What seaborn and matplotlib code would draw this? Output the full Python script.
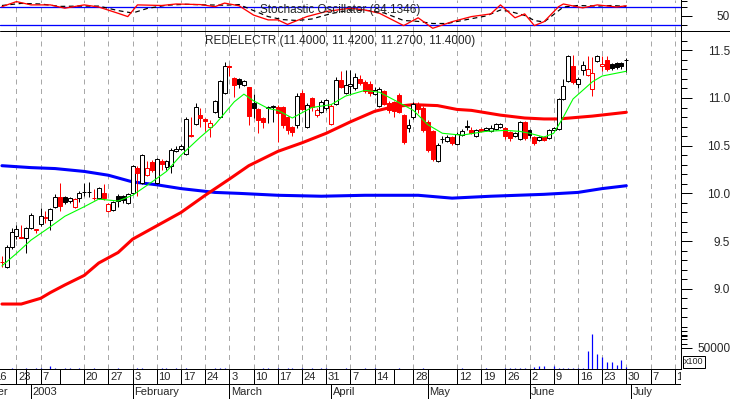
import numpy as np
import matplotlib
matplotlib.use("Agg")
import matplotlib.pyplot as plt
import seaborn as sns
from matplotlib.lines import Line2D
from matplotlib.ticker import FixedLocator

sns.set_style("white")
plt.rcParams['font.family'] = ['Liberation Sans', 'DejaVu Sans']

# trading-day index, 0 = first session of January 2003
day = np.arange(-6, 124)
first_prev_close = 9.31

opens = [9.28, 9.23, 9.44, 9.55, 9.54, 9.53, 9.64, 9.62, 9.68, 9.74,
         9.72, 9.86, 9.96, 9.96, 9.92, 9.86, 9.95, 10.01, 10.01, 9.95,
         9.95, 10.00, 9.81, 9.83, 9.97, 9.97, 9.90, 10.00, 10.27, 10.11,
         10.19, 10.33, 10.11, 10.34, 10.28, 10.29, 10.44, 10.46, 10.41, 10.61,
         10.73, 10.82, 10.78, 10.70, 10.85, 10.80, 11.05, 11.33, 11.21, 11.20,
         11.14, 11.11, 10.95, 10.88, 10.79, 10.90, 10.91, 10.91, 10.91, 10.80,
         10.70, 10.72, 11.05, 10.70, 11.00, 10.82, 10.85, 10.89, 10.73, 10.94,
         11.19, 11.05, 11.13, 11.10, 11.20, 11.17, 11.15, 11.04, 10.92, 11.07,
         10.95, 10.96, 11.03, 10.82, 10.68, 10.80, 10.93, 10.90, 10.75, 10.65,
         10.34, 10.57, 10.55, 10.59, 10.52, 10.61, 10.70, 10.66, 10.60, 10.67,
         10.66, 10.65, 10.67, 10.70, 10.69, 10.64, 10.60, 10.57, 10.75, 10.66,
         10.59, 10.56, 10.59, 10.58, 10.66, 10.67, 10.99, 11.18, 11.34, 11.15,
         11.29, 11.24, 11.09, 11.39, 11.34, 11.40, 11.36, 11.37, 11.37, 11.40]
highs = [9.34, 9.46, 9.64, 9.67, 9.67, 9.65, 9.79, 9.63, 9.85, 9.82,
         9.85, 9.99, 10.11, 9.97, 9.96, 9.95, 10.03, 10.11, 10.12, 10.05,
         10.07, 10.10, 9.90, 9.92, 9.99, 9.98, 10.00, 10.30, 10.29, 10.41,
         10.34, 10.35, 10.37, 10.36, 10.35, 10.48, 10.50, 10.52, 10.80, 10.80,
         10.95, 10.90, 10.79, 10.77, 10.98, 11.19, 11.38, 11.35, 11.22, 11.21,
         11.19, 11.12, 11.04, 10.90, 10.80, 10.92, 10.93, 10.93, 10.92, 10.81,
         10.71, 11.05, 11.08, 10.95, 11.01, 10.89, 10.98, 10.99, 10.94, 11.22,
         11.28, 11.29, 11.29, 11.26, 11.24, 11.19, 11.18, 11.12, 11.12, 11.08,
         10.97, 10.97, 11.05, 10.83, 10.78, 10.96, 10.96, 10.92, 10.77, 10.66,
         10.53, 10.60, 10.61, 10.60, 10.64, 10.67, 10.77, 10.70, 10.67, 10.68,
         10.70, 10.72, 10.74, 10.74, 10.70, 10.65, 10.64, 10.76, 10.76, 10.67,
         10.60, 10.60, 10.60, 10.67, 10.70, 11.00, 11.20, 11.45, 11.45, 11.22,
         11.39, 11.44, 11.43, 11.45, 11.44, 11.44, 11.37, 11.38, 11.38, 11.42]
lows = [9.23, 9.22, 9.42, 9.52, 9.53, 9.37, 9.63, 9.58, 9.66, 9.69,
        9.62, 9.85, 9.81, 9.89, 9.90, 9.85, 9.91, 9.97, 9.96, 9.93,
        9.94, 9.93, 9.80, 9.82, 9.86, 9.90, 9.89, 9.99, 9.97, 10.10,
        10.18, 10.22, 10.10, 10.25, 10.24, 10.21, 10.43, 10.45, 10.40, 10.59,
        10.72, 10.70, 10.65, 10.59, 10.84, 10.79, 11.04, 11.23, 11.01, 11.10,
        11.13, 10.72, 10.79, 10.63, 10.68, 10.74, 10.75, 10.54, 10.69, 10.62,
        10.60, 10.68, 10.87, 10.68, 10.86, 10.80, 10.84, 10.87, 10.72, 10.93,
        11.10, 11.04, 11.03, 11.08, 11.14, 11.05, 11.02, 11.03, 10.91, 10.93,
        10.84, 10.80, 10.84, 10.52, 10.64, 10.78, 10.84, 10.64, 10.43, 10.34,
        10.33, 10.53, 10.54, 10.51, 10.51, 10.60, 10.66, 10.62, 10.59, 10.64,
        10.65, 10.64, 10.66, 10.69, 10.57, 10.55, 10.59, 10.56, 10.56, 10.58,
        10.51, 10.55, 10.55, 10.57, 10.65, 10.66, 10.98, 11.17, 11.15, 11.10,
        11.24, 11.23, 11.02, 11.38, 11.28, 11.28, 11.29, 11.30, 11.30, 11.27]
closes = [9.28, 9.44, 9.60, 9.63, 9.53, 9.64, 9.77, 9.62, 9.76, 9.75,
          9.84, 9.96, 9.87, 9.91, 9.95, 9.94, 10.00, 10.01, 10.01, 9.95,
          10.06, 9.95, 9.89, 9.91, 9.92, 9.93, 9.99, 10.29, 10.21, 10.40,
          10.27, 10.24, 10.36, 10.31, 10.34, 10.45, 10.47, 10.50, 10.78, 10.60,
          10.91, 10.79, 10.76, 10.74, 10.97, 11.18, 11.33, 11.32, 11.14, 11.15,
          11.18, 10.81, 10.89, 10.77, 10.75, 10.90, 10.91, 10.84, 10.72, 10.66,
          10.64, 11.02, 10.88, 10.93, 10.91, 10.87, 10.96, 10.98, 10.92, 11.19,
          11.12, 11.14, 11.15, 11.22, 11.16, 11.07, 11.05, 11.08, 11.09, 10.94,
          10.87, 10.86, 10.85, 10.54, 10.72, 10.94, 10.88, 10.66, 10.45, 10.36,
          10.51, 10.57, 10.59, 10.53, 10.62, 10.65, 10.70, 10.63, 10.66, 10.65,
          10.68, 10.69, 10.73, 10.73, 10.60, 10.58, 10.63, 10.75, 10.58, 10.61,
          10.53, 10.59, 10.56, 10.66, 10.69, 10.99, 11.13, 11.44, 11.17, 11.20,
          11.35, 11.30, 11.26, 11.44, 11.36, 11.30, 11.31, 11.32, 11.33, 11.40]
volume = [0, 0, 3000, 0, 0, 3000, 0, 2500, 3000, 0,
          8000, 3000, 0, 2500, 2500, 0, 2500, 0, 0, 2500,
          0, 0, 0, 0, 2500, 0, 0, 0, 3000, 2500,
          0, 0, 0, 3000, 2500, 0, 2500, 0, 2500, 0,
          0, 0, 0, 0, 3000, 3000, 2500, 0, 0, 0,
          0, 0, 0, 0, 2500, 2500, 0, 2500, 0, 2500,
          2500, 0, 2500, 0, 2500, 0, 2500, 2500, 0, 0,
          0, 2500, 0, 0, 0, 2500, 0, 2500, 0, 0,
          0, 0, 2500, 0, 0, 0, 0, 2500, 0, 0,
          0, 0, 0, 0, 0, 3000, 0, 0, 0, 0,
          2500, 0, 0, 0, 2500, 2500, 2500, 2500, 2500, 0,
          5000, 7000, 7000, 0, 7000, 3000, 3000, 3000, 3000, 3000,
          3000, 43000, 83000, 34500, 28000, 16000, 16000, 8700, 21700, 5600]

# moving averages
green_day = [-6, -3, 0, 4, 7, 11, 14, 18, 21, 25, 28, 31, 35, 38, 42, 44, 46, 49, 51, 54,
             58, 62, 65, 69, 72, 75, 79, 82, 85, 89, 94, 98, 101, 103, 106, 108, 110, 112,
             114, 116, 118, 120, 123]
green_ma = [9.24, 9.37, 9.51, 9.65, 9.76, 9.86, 9.94, 9.92, 9.98, 10.12, 10.23, 10.40, 10.59,
            10.72, 10.96, 11.04, 10.97, 10.89, 10.87, 10.79, 10.90, 10.93, 11.02, 11.08, 11.06,
            10.98, 10.87, 10.72, 10.63, 10.61, 10.65, 10.66, 10.65, 10.63, 10.59, 10.63, 10.80,
            10.99, 11.08, 11.17, 11.23, 11.25, 11.28]
red_day = [-6, -2, 0, 2, 4, 7, 11, 14, 18, 21, 26, 31, 36, 41, 45, 51, 56, 61, 66, 71,
           75, 79, 84, 88, 91, 97, 102, 106, 109, 116, 123]
red_ma = [8.84, 8.84, 8.87, 8.90, 8.96, 9.04, 9.14, 9.27, 9.38, 9.52, 9.66, 9.80, 9.98,
          10.15, 10.29, 10.44, 10.53, 10.63, 10.75, 10.86, 10.91, 10.93, 10.92, 10.88, 10.87,
          10.82, 10.79, 10.78, 10.78, 10.81, 10.85]
blue_day = [-6, 0, 5, 11, 16, 21, 26, 31, 38, 43, 51, 60, 69, 80, 87, 95, 106, 113, 118, 123]
blue_ma = [10.29, 10.27, 10.26, 10.23, 10.19, 10.12, 10.09, 10.05, 10.01, 10.00, 9.98, 9.97,
           9.98, 9.98, 9.95, 9.97, 9.99, 10.01, 10.05, 10.08]

# stochastic oscillator
stk_day = [-6, -3, 0, 4, 7, 11, 14, 18, 20, 22, 27, 30, 35, 38, 40, 43, 46, 49, 51, 53,
           57, 61, 66, 69, 72, 77, 80, 83, 87, 91, 95, 97, 100, 102, 104, 106, 109, 110,
           114, 117, 121, 123]
stk_k = [81, 98, 87, 87, 76, 87, 80, 59, 48, 87, 85, 90, 88, 81, 93, 84, 53, 37, 37, 22,
         48, 65, 76, 70, 59, 18, 44, 9, 31, 48, 57, 87, 44, 57, 18, 31, 81, 90,
         77, 87, 80, 84]
std_day = [-6, -2, 2, 6, 10, 14, 18, 21, 24, 28, 32, 36, 40, 43, 46, 49, 52, 55, 58, 62,
           66, 70, 73, 77, 80, 83, 86, 90, 94, 97, 99, 102, 104, 106, 108, 110, 113, 117,
           120, 123]
std_d = [85, 92, 90, 82, 83, 83, 68, 60, 75, 86, 89, 87, 86, 88, 68, 48, 38, 35, 40, 58,
         70, 68, 60, 35, 32, 25, 25, 38, 50, 70, 65, 52, 35, 30, 55, 80, 85, 83, 85, 82]

# date axis
week_pos = [-8, -3, -1, 2, 6, 11, 16, 21, 26, 31, 36, 41, 46, 51, 56, 61, 66, 71, 75, 79,
            82, 88, 93, 98, 103, 108, 113, 118, 123, 128, 133]
week_lab = ['16', '23', '', '7', '', '20', '27', '3', '10', '17', '24', '3', '10', '17', '24',
            '31', '7', '14', '', '28', '', '12', '19', '26', '2', '9', '16', '23', '30', '7', '14']
month_pos = [0, 21, 41, 62, 82, 103, 124]
month_lab = ['2003', 'February', 'March', 'April', 'May', 'June', 'July']

RED, BLUE, GREEN = '#ff0000', '#0000ff', '#00ff00'
PX = 0.72
xmin, xmax = -6.4, 134.3

fig = plt.figure(figsize=(7.30, 3.99), dpi=100)
W, H = 730.0, 399.0


def px_box(x0, y0, x1, y1):
    return [x0 / W, 1 - y1 / H, (x1 - x0) / W, (y1 - y0) / H]


ax_st = fig.add_axes(px_box(0, 0, 681, 31))
ax = fig.add_axes(px_box(0, 31, 681, 369))
ax_dt = fig.add_axes(px_box(0, 369, 681, 399))
ax_vol = ax.twinx()

grid_pos = [p for p, l in zip(week_pos, week_lab) if l]
for a in (ax_st, ax):
    for g in grid_pos:
        a.axvline(g, color='#a8a8a8', lw=PX, ls=(0, (5, 4.5)), zorder=0)

# ---- stochastic panel
ax_st.axhline(80, color=BLUE, lw=PX * 1.3, zorder=1)
ax_st.axhline(20, color=BLUE, lw=PX * 1.3, zorder=1)
sns.lineplot(x=std_day, y=std_d, ax=ax_st, color='black', lw=PX * 1.2,
             linestyle=(0, (4, 3)), estimator=None, sort=False, legend=False, zorder=2)
sns.lineplot(x=stk_day, y=stk_k, ax=ax_st, color=RED, lw=PX * 1.3,
             estimator=None, sort=False, legend=False, zorder=3)
ax_st.set_ylim(0, 103.3)
fig.text(340 / W, 1 - 10 / H, 'Stochastic Oscillator (84.1346)', ha='center', va='center',
         fontsize=8.5)

# ---- price panel
o, h, l, c = map(np.array, (opens, highs, lows, closes))
prev = np.concatenate([[first_prev_close], c[:-1]])
col = np.where(c >= prev, 'black', RED)
face = np.where(c < o, col, 'white')
ax.vlines(day, l, h, colors=col, lw=PX, zorder=3)
ax.bar(day, np.maximum(np.abs(c - o), 0.002), bottom=np.minimum(o, c), width=0.82,
       color=face, edgecolor=col, linewidth=PX, zorder=4)

sns.lineplot(x=blue_day, y=blue_ma, ax=ax, color=BLUE, lw=2.2,
             estimator=None, sort=False, legend=False, zorder=2)
sns.lineplot(x=red_day, y=red_ma, ax=ax, color=RED, lw=2.2,
             estimator=None, sort=False, legend=False, zorder=2)
sns.lineplot(x=green_day, y=green_ma, ax=ax, color=GREEN, lw=0.8,
             estimator=None, sort=False, legend=False, zorder=5)
ax.set_ylim(8.159, 11.702)
fig.text(340 / W, 1 - 41 / H, 'REDELECTR (11.4000, 11.4200, 11.2700, 11.4000)',
         ha='center', va='center', fontsize=8.5)

# volume
vday = [d for d, v in zip(day, volume) if v > 0]
vval = [v for v in volume if v > 0]
ax_vol.vlines(vday, 0, vval, colors=BLUE, lw=PX * 1.2, zorder=3)
ax_vol.set_ylim(0, 800000)

# axes cosmetics
for a in (ax_st, ax, ax_vol, ax_dt):
    a.set_xlim(xmin, xmax)
    a.set_xlabel('')
    a.set_ylabel('')
    a.set_xticks([])
    a.patch.set_alpha(0)
    for s in a.spines.values():
        s.set_visible(False)

for a in (ax_st, ax):
    a.spines['right'].set_visible(True)
    a.spines['right'].set_color('black')
    a.spines['right'].set_linewidth(PX)
ax.spines['bottom'].set_visible(True)
ax.spines['bottom'].set_color('black')
ax.spines['bottom'].set_linewidth(PX)

ax.yaxis.tick_right()
ax.set_yticks([9.0, 9.5, 10.0, 10.5, 11.0, 11.5])
ax.set_yticklabels(['9.0', '9.5', '10.0', '10.5', '11.0', '11.5'])
ax.yaxis.set_minor_locator(FixedLocator([round(8.5 + 0.1 * k, 1) for k in range(33)]))
ax_vol.set_yticks([50000])
ax_vol.set_yticklabels(['50000'])
ax_vol.yaxis.set_minor_locator(FixedLocator([60000, 70000, 80000, 90000]))
ax_st.yaxis.tick_right()
ax_st.set_yticks([50])
ax_st.set_yticklabels(['50'])
ax_st.yaxis.set_minor_locator(FixedLocator([20, 80, 100]))

for a in (ax, ax_vol, ax_st):
    a.tick_params(axis='y', which='major', length=8, width=PX, color='black',
                  direction='out', pad=27.4, labelsize=8.5, right=True, left=False,
                  labelright=True, labelleft=False)
    a.tick_params(axis='y', which='minor', length=4, width=PX, color='black',
                  direction='out', right=True, left=False)
    for t in a.get_yticklabels():
        t.set_horizontalalignment('right')

# ---- date strip
ax_dt.set_ylim(0, 2)
ax_dt.set_yticks([])
ax_dt.axhline(1, color='black', lw=PX)
ax_dt.vlines(week_pos, 1, 2, colors='black', lw=PX)
ax_dt.vlines(month_pos, 0, 1, colors='black', lw=PX)
for p, lab in zip(week_pos, week_lab):
    if lab:
        ax_dt.text(p + 0.35, 1.47, lab, ha='left', va='center', fontsize=8, clip_on=True)
for p, lab in zip(month_pos, month_lab):
    ax_dt.text(p + 0.35, 0.45, lab, ha='left', va='center', fontsize=8, clip_on=True)
ax_dt.text(-4.75, 0.45, 'December', ha='right', va='center', fontsize=8, clip_on=True)

# frame lines and volume unit box
fig.add_artist(Line2D([0, 1], [1 - 31 / H] * 2, color='black', lw=PX))
fig.text(694 / W, 1 - 362 / H, 'x100', ha='center', va='center', fontsize=6.5,
         bbox=dict(boxstyle='square,pad=0.15', fc='white', ec='black', lw=PX))

fig.savefig('out.png', dpi=100)
